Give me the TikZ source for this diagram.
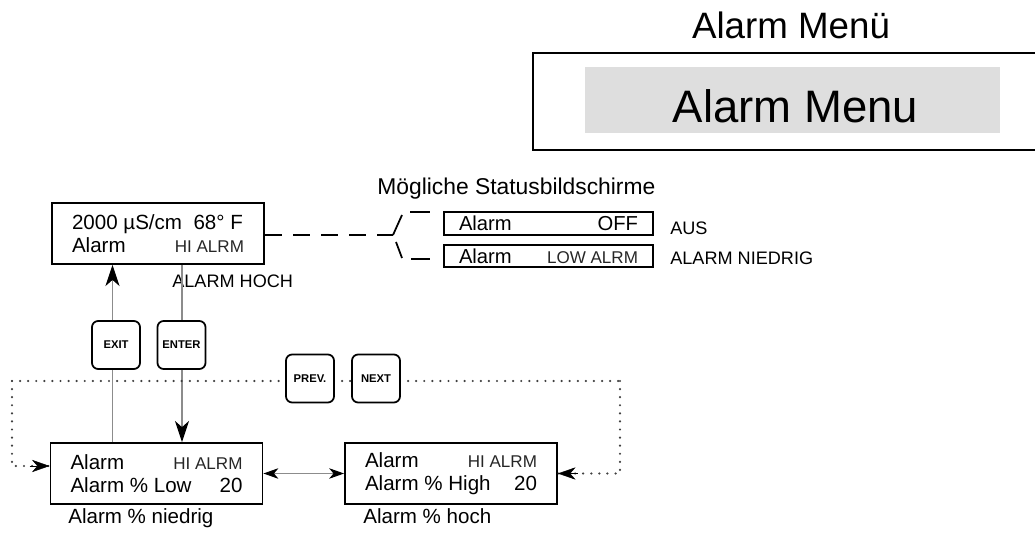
\documentclass[tikz,border=0pt]{standalone}
\usepackage{fontspec}
\setmainfont{Liberation Sans}
\usetikzlibrary{arrows.meta}
\usetikzlibrary{calc}

\newcommand{\displine}[2]{\makebox[3.44cm]{#1\hfill#2}}
\newcommand{\statline}[2]{\makebox[3.58cm]{#1\hfill#2}}
\newcommand{\hifont}{\fontsize{9.7}{11}\selectfont\color{black!85}}

\tikzset{
  display/.style={draw, line width=1.1pt, minimum width=4.24cm, minimum height=1.22cm,
    inner sep=0pt, align=left, font=\fontsize{11.7}{13}\selectfont},
  status/.style={draw, line width=1pt, minimum width=4.18cm, minimum height=0.45cm,
    inner sep=0pt, font=\fontsize{11.5}{13}\selectfont},
  key/.style={draw, fill=white, line width=1pt, rounded corners=3.5pt,
    minimum size=0.96cm, inner sep=0pt, font=\fontsize{6.4}{7}\selectfont\bfseries},
  label/.style={anchor=base west, inner sep=0pt, font=\fontsize{11.7}{13}\selectfont},
  caps/.style={anchor=base west, inner sep=0pt, font=\fontsize{10.3}{12}\selectfont},
  wire/.style={draw=black!45, line width=0.6pt},
  dots/.style={draw=black!75, line width=1.4pt, line cap=round, dash pattern=on 0pt off 4.6pt},
  head/.style={-{Stealth[length=12pt,width=8pt,inset=3.5pt,color=black]}},
  dothead/.style={draw=black, line width=0.3pt, -{Stealth[length=10pt,width=7pt,inset=3pt]}},
  twohead/.style={{Stealth[length=8.5pt,width=6pt,inset=2.5pt,color=black]}-{Stealth[length=8.5pt,width=6pt,inset=2.5pt,color=black]}}
}

\begin{document}
\begin{tikzpicture}[x=0.02cm,y=-0.02cm]

      \useasboundingbox (0,0) rectangle (1035,533);

      \node (title) at (791,38.5) [anchor=base, inner sep=0pt, font=\fontsize{20.9}{24}\selectfont] {Alarm Menü};
      \draw[line width=1.1pt] (1040,53) -- (533,53) -- (533,150) -- (1040,150);
      \node (menu) at (792.5,100) [fill=black!13, minimum width=8.3cm, minimum height=1.32cm] {};
      \node (menutext) at (795.5,123) [anchor=base, inner sep=0pt, font=\fontsize{25.9}{30}\selectfont] {Alarm Menu};

      \node (top) at (158,233.5) [display] {
        \displine{2000 µS/cm\ \ 68° F}{}\\
        \displine{Alarm}{\hifont HI ALRM}};
      \node (hoch) at (172,288) [caps] {ALARM HOCH};

      \node (moeglich) at (377,195) [anchor=base west, inner sep=0pt, font=\fontsize{13}{15}\selectfont] {Mögliche Statusbildschirme};
      \node (off) at (548.5,223.5) [status] {\statline{Alarm}{OFF}};
      \node (lowalrm) at (548.5,256) [status] {\statline{Alarm}{\hifont LOW ALRM}};
      \node (aus) at (670,235) [caps] {AUS};
      \node (niedrig) at (670,265) [caps] {ALARM NIEDRIG};

      \coordinate (split) at (393,235);
      \draw[line width=1.1pt, dash pattern=on 9.7pt off 6.3pt] (top.east |- split) -- (split);
      \draw[line width=1pt] (split) -- (402,215);
      \draw[line width=1pt] (410,212) -- (430,212);
      \draw[line width=1pt] (396,242) -- (402,258);
      \draw[line width=1pt] (411,259) -- (430,259);

      \node (low) at (156.5,473.5) [display] {
        \displine{Alarm}{\hifont HI ALRM}\\
        \displine{Alarm \% Low}{20}};
      \node (high) at (451,473.5) [display] {
        \displine{Alarm}{\hifont HI ALRM}\\
        \displine{Alarm \% High}{20}};
      \node (lowlabel) at (68,523) [label] {Alarm \% niedrig};
      \node (highlabel) at (363,523) [label] {Alarm \% hoch};

      \coordinate (exitline) at (112.5,0);
      \coordinate (enterline) at (182,0);
      \draw[wire, head] (exitline |- low.north) -- (exitline |- top.south);
      \draw[wire, head] (enterline |- top.south) -- (enterline |- low.north);
      \draw[wire, twohead] (low.east) -- (high.west);

      \coordinate (lcorner) at (12,381);
      \coordinate (rcorner) at (620,381);
      \draw[dots] (lcorner) -- (286,381);
      \draw[dots] (334,381) -- (352,381);
      \draw[dots] (400,381) -- (rcorner);
      \draw[dots] (lcorner) -- (lcorner |- 0,466) -- ([yshift=0.15cm]low.west);
      \draw[dots] (rcorner) -- (rcorner |- high.east) -- (high.east);
      \draw[dothead] ([xshift=-0.4cm,yshift=0.15cm]low.west) -- ([yshift=0.15cm]low.west);
      \draw[dothead] ([xshift=0.4cm]high.east) -- (high.east);

      \node (exit)  at (116,345) [key] {EXIT};
      \node (enter) at (181.5,345) [key] {ENTER};
      \node (prev)  at (310,378.5) [key] {PREV.};
      \node (next)  at (376,378.5) [key] {NEXT};

\end{tikzpicture}
\end{document}
